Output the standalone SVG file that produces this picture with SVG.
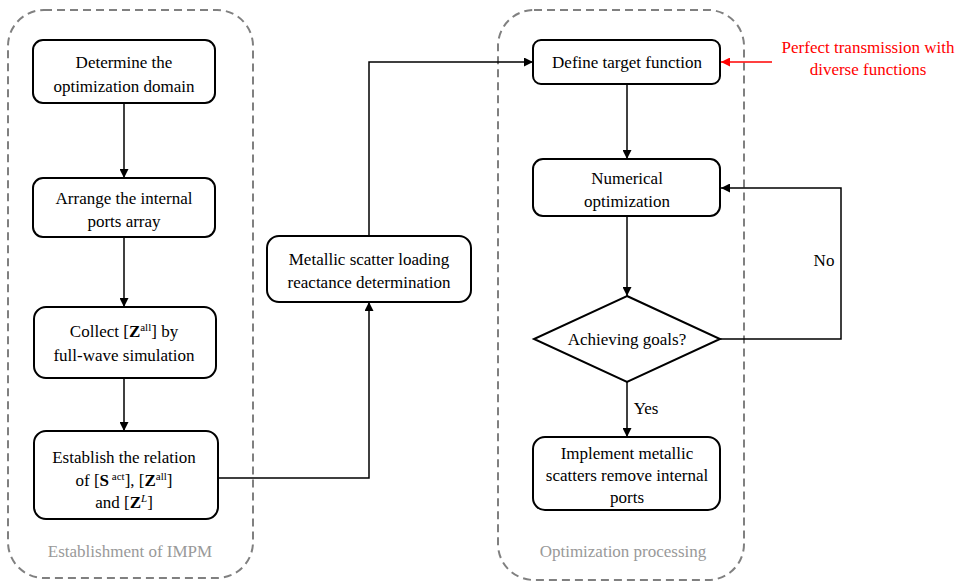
<svg xmlns="http://www.w3.org/2000/svg" width="963" height="584" viewBox="0 0 963 584" font-family="'Liberation Serif', 'Times New Roman', Times, 'DejaVu Serif', serif">
<defs>
<marker id="ah" viewBox="0 0 10 10" refX="10" refY="5" markerWidth="9" markerHeight="9" markerUnits="userSpaceOnUse" orient="auto"><path d="M0,0 L10,5 L0,10 z" fill="#000"/></marker>
<marker id="ahr" viewBox="0 0 10 10" refX="10" refY="5" markerWidth="9" markerHeight="9" markerUnits="userSpaceOnUse" orient="auto"><path d="M0,0 L10,5 L0,10 z" fill="#ff0000"/></marker>
<style>
.grp{fill:none;stroke:#808080;stroke-width:2;stroke-dasharray:8,5}
.box{fill:#fff;stroke:#000;stroke-width:2}
text{font-family:'Liberation Serif','Times New Roman',Times,'DejaVu Serif',serif;font-size:17px}
.t{fill:#000;text-anchor:middle}
.g{fill:#999;text-anchor:middle}
.r{fill:#ff0000;text-anchor:middle}
.c{fill:none;stroke:#000;stroke-width:1.5}
</style>
</defs>
<rect width="963" height="584" fill="#fff"/>
<g id="group-impm">
<rect class="grp" x="8" y="10" width="245" height="568" rx="36"/>
<text class="g" x="130" y="557">Establishment of IMPM</text>
</g>
<g id="group-opt">
<rect class="grp" x="498" y="10" width="246" height="570" rx="36"/>
<text class="g" x="623" y="557">Optimization processing</text>
</g>
<g id="connectors">
<line class="c" x1="124" y1="103" x2="124" y2="178" marker-end="url(#ah)"/>
<line class="c" x1="124" y1="237" x2="124" y2="307" marker-end="url(#ah)"/>
<line class="c" x1="124" y1="378" x2="124" y2="431" marker-end="url(#ah)"/>
<polyline class="c" points="218,478 369,478 369,302" marker-end="url(#ah)"/>
<polyline class="c" points="369,236 369,62 533,62" marker-end="url(#ah)"/>
<line class="c" x1="627" y1="84" x2="627" y2="159" marker-end="url(#ah)"/>
<line class="c" x1="627" y1="216" x2="627" y2="296" marker-end="url(#ah)"/>
<line class="c" x1="627" y1="382" x2="627" y2="437" marker-end="url(#ah)"/>
<polyline class="c" points="720,339 841,339 841,188 721,188" marker-end="url(#ah)"/>
<line x1="772" y1="62" x2="721" y2="62" stroke="#ff0000" stroke-width="1.5" marker-end="url(#ahr)"/>
<text class="t" x="824" y="266">No</text>
<text class="t" x="646" y="414">Yes</text>
</g>
<g id="n1">
<rect class="box" x="33" y="40" width="182" height="63" rx="10"/>
<text class="t" x="124" y="68">Determine the</text>
<text class="t" x="124" y="92">optimization domain</text>
</g>
<g id="n2">
<rect class="box" x="33" y="178" width="182" height="59" rx="10"/>
<text class="t" x="124" y="204">Arrange the internal</text>
<text class="t" x="124" y="227">ports array</text>
</g>
<g id="n3">
<rect class="box" x="34" y="307" width="182" height="71" rx="12"/>
<text class="t" x="124" y="337">Collect [<tspan font-weight="bold">Z</tspan><tspan font-size="11" dy="-6">all</tspan><tspan dy="6">] by</tspan></text>
<text class="t" x="124" y="361">full-wave simulation</text>
</g>
<g id="n4">
<rect class="box" x="34" y="431" width="184" height="88" rx="12"/>
<text class="t" x="124" y="463">Establish the relation</text>
<text class="t" x="124" y="486">of [<tspan font-weight="bold">S</tspan><tspan font-size="11" dy="-6"> act</tspan><tspan dy="6">], [</tspan><tspan font-weight="bold">Z</tspan><tspan font-size="11" dy="-6">all</tspan><tspan dy="6">]</tspan></text>
<text class="t" x="124" y="508">and [<tspan font-weight="bold">Z</tspan><tspan font-size="11" font-style="italic" dy="-6">L</tspan><tspan dy="6">]</tspan></text>
</g>
<g id="n5">
<rect class="box" x="267" y="236" width="204" height="66" rx="12"/>
<text class="t" x="369" y="265">Metallic scatter loading</text>
<text class="t" x="369" y="288">reactance determination</text>
</g>
<g id="n6">
<rect class="box" x="533" y="40" width="187" height="44" rx="8"/>
<text class="t" x="627" y="68">Define target function</text>
</g>
<g id="n7">
<rect class="box" x="533" y="159" width="187" height="57" rx="10"/>
<text class="t" x="627" y="184">Numerical</text>
<text class="t" x="627" y="207">optimization</text>
</g>
<g id="n8">
<polygon class="box" points="627,296 720,339 627,382 534,339"/>
<text class="t" x="627" y="345">Achieving goals?</text>
</g>
<g id="n9">
<rect class="box" x="533" y="437" width="187" height="73" rx="12"/>
<text class="t" x="627" y="459">Implement metallic</text>
<text class="t" x="627" y="481">scatters remove internal</text>
<text class="t" x="627" y="503">ports</text>
</g>
<g id="note">
<text class="r" x="868" y="53">Perfect transmission with</text>
<text class="r" x="868" y="75">diverse functions</text>
</g>
</svg>
